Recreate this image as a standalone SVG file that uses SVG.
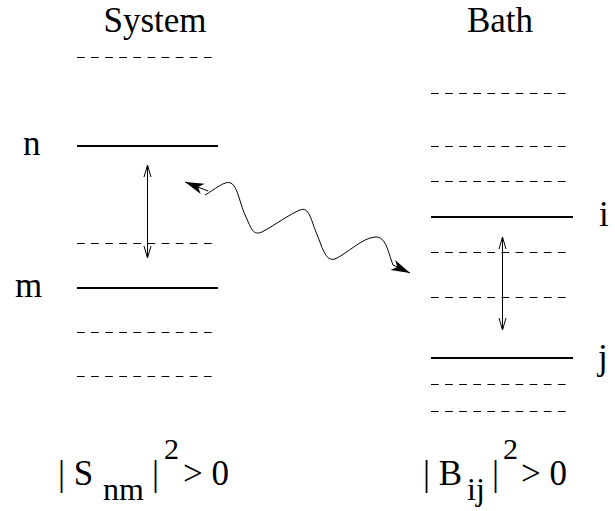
<svg xmlns="http://www.w3.org/2000/svg" width="615" height="511" viewBox="0 0 615 511">
<style>
text{font-family:"Liberation Serif","Times New Roman",serif;fill:#000}
.lbl{font-size:35px}
.sub{font-size:32px}
.sup{font-size:30px}
.solid{stroke:#000;stroke-width:2;fill:none}
.dash{stroke:#000;stroke-width:1;stroke-dasharray:7.7 6.4;fill:none}
.dbl{stroke:#000;stroke-width:1;fill:none;marker-start:url(#open);marker-end:url(#open)}
.wave{stroke:#000;stroke-width:1;fill:none}
</style>
<defs>
<marker id="open" markerUnits="userSpaceOnUse" viewBox="-13 -5 14 10" refX="0" refY="0" markerWidth="14" markerHeight="10" orient="auto-start-reverse">
<path d="M-12,-3.5 L0,0 L-12,3.5" fill="none" stroke="#000" stroke-width="1"/>
</marker>
<marker id="fill" markerUnits="userSpaceOnUse" viewBox="-20 -7 21 14" refX="0" refY="0" markerWidth="21" markerHeight="14" orient="auto">
<path d="M-19,-5.5 L0,0 L-19,5.5 L-14,0 Z" fill="#000"/>
</marker>
</defs>
<g id="titles">
<text class="lbl" x="155" y="32" text-anchor="middle">System</text>
<text class="lbl" x="500" y="32" text-anchor="middle">Bath</text>
</g>
<g id="system">
<line class="dash" x1="77" y1="57.5" x2="213" y2="57.5"/>
<line class="solid" x1="77" y1="146" x2="218" y2="146"/>
<line class="dash" x1="77" y1="243.5" x2="213" y2="243.5"/>
<line class="solid" x1="77" y1="288" x2="218" y2="288"/>
<line class="dash" x1="77" y1="332.5" x2="213" y2="332.5"/>
<line class="dash" x1="77" y1="376.5" x2="213" y2="376.5"/>
<text class="lbl" x="23" y="155">n</text>
<text class="lbl" x="15" y="297">m</text>
</g>
<g id="bath">
<line class="dash" x1="431" y1="93.5" x2="567" y2="93.5"/>
<line class="dash" x1="431" y1="146.5" x2="567" y2="146.5"/>
<line class="dash" x1="431" y1="181.5" x2="567" y2="181.5"/>
<line class="solid" x1="431" y1="217" x2="573" y2="217"/>
<line class="dash" x1="431" y1="252.5" x2="567" y2="252.5"/>
<line class="dash" x1="431" y1="297.5" x2="567" y2="297.5"/>
<line class="solid" x1="431" y1="358" x2="573" y2="358"/>
<line class="dash" x1="431" y1="384.5" x2="567" y2="384.5"/>
<line class="dash" x1="431" y1="411.5" x2="567" y2="411.5"/>
<text class="lbl" x="599" y="226">i</text>
<text class="lbl" x="598" y="369">j</text>
</g>
<g id="connectors">
<line class="dbl" x1="147.5" y1="165" x2="147.5" y2="258"/>
<line class="dbl" x1="502.5" y1="237" x2="502.5" y2="330"/>
<path class="wave" d="M208,191 L185,182" marker-end="url(#fill)"/>
<path class="wave" marker-end="url(#fill)" d="M205,195 C214,190 225,180 231,183 C238,187 240,205 246,217 C251,228 253,236 262,232 C275,225 290,214 300,210 C309,206 311,220 316,232 C322,246 325,262 335,259 C348,253 362,238 375,237 C386,236 388,252 393,265 L410,273"/>
</g>
<g id="formulas">
<text class="lbl" x="58" y="485">| S</text>
<text class="sub" x="103" y="500">nm</text>
<text class="lbl" x="152" y="485">|</text>
<text class="sup" x="164" y="459">2</text>
<text class="lbl" x="183" y="485">&gt; 0</text>
<text class="lbl" x="423" y="485">| B</text>
<text class="sub" x="467" y="500">ij</text>
<text class="lbl" x="492" y="485">|</text>
<text class="sup" x="503" y="459">2</text>
<text class="lbl" x="521" y="485">&gt; 0</text>
</g>
</svg>
